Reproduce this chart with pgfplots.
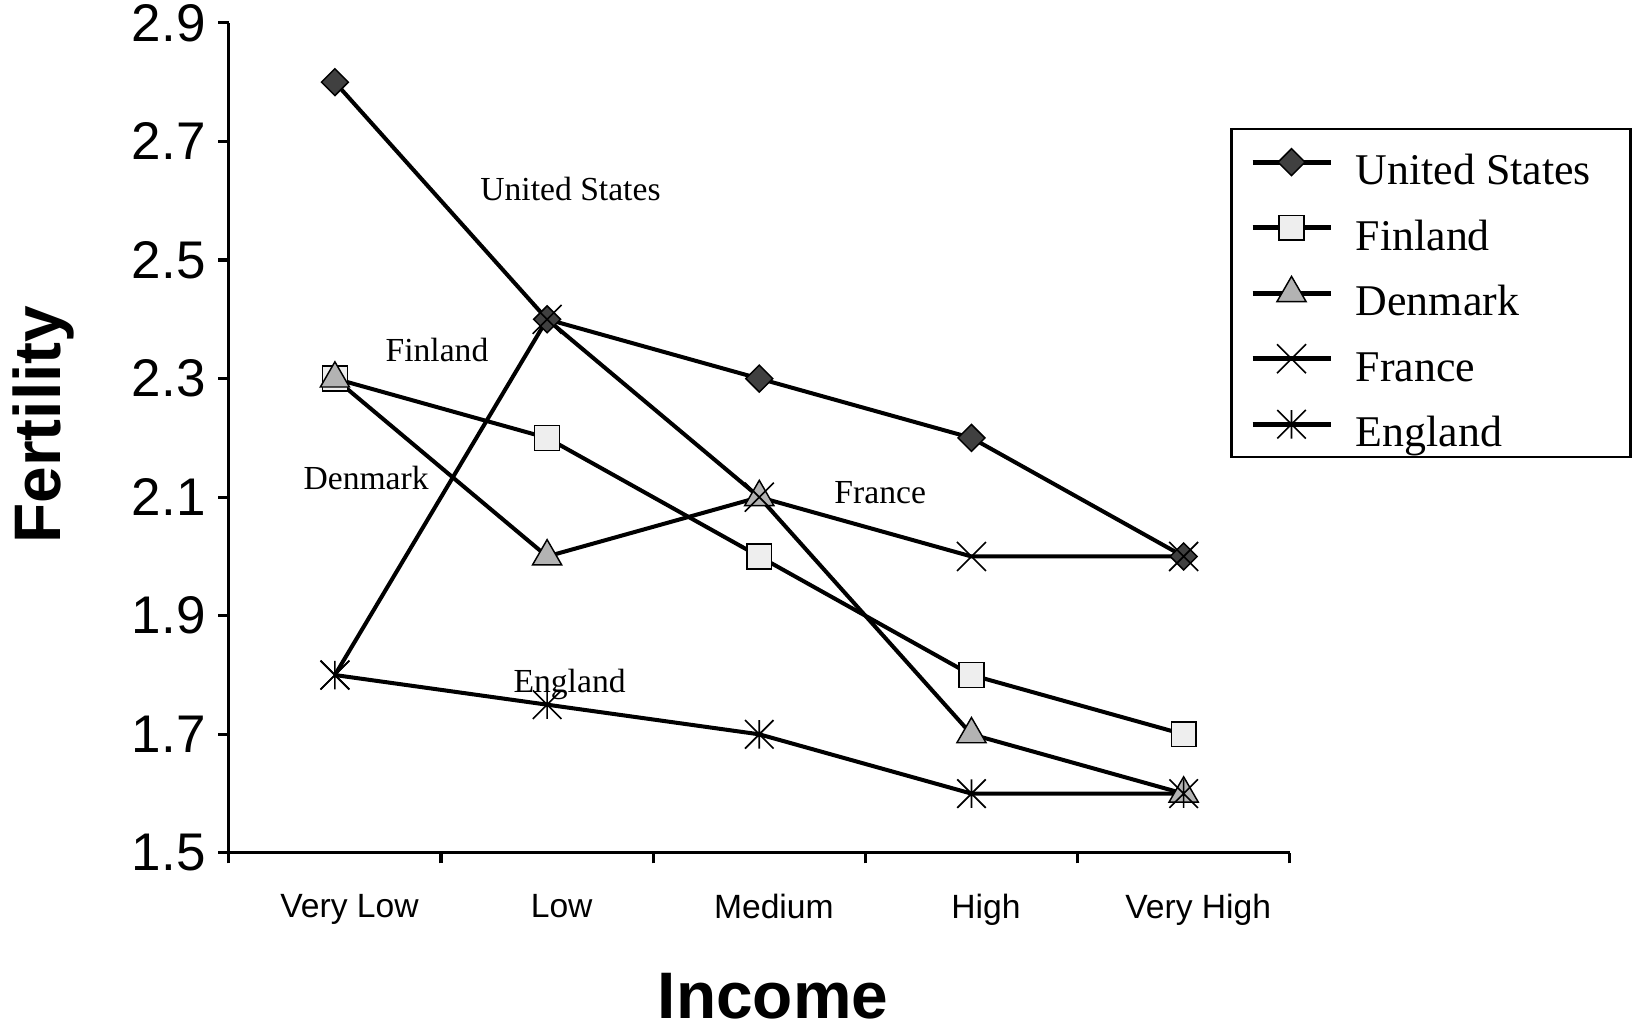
\documentclass[border=0pt]{standalone}
\usepackage{fontspec}
\setmainfont{Liberation Sans}
\newfontfamily\serif{Liberation Serif}
\usepackage{pgfplots}
\pgfplotsset{compat=1.18}

\definecolor{usfill}{HTML}{404040}
\definecolor{fifill}{HTML}{EEEEEE}
\definecolor{dkfill}{HTML}{B3B3B3}

% asterisk as in the original: an x plus a vertical bar
\pgfdeclareplotmark{xstar}{%
  \pgfpathmoveto{\pgfqpoint{-\pgfplotmarksize}{-\pgfplotmarksize}}%
  \pgfpathlineto{\pgfqpoint{\pgfplotmarksize}{\pgfplotmarksize}}%
  \pgfpathmoveto{\pgfqpoint{-\pgfplotmarksize}{\pgfplotmarksize}}%
  \pgfpathlineto{\pgfqpoint{\pgfplotmarksize}{-\pgfplotmarksize}}%
  \pgfpathmoveto{\pgfqpoint{0pt}{-\pgfplotmarksize}}%
  \pgfpathlineto{\pgfqpoint{0pt}{\pgfplotmarksize}}%
  \pgfusepathqstroke}

\begin{document}
\begin{tikzpicture}
\useasboundingbox (0,0) rectangle (15.70,9.875);
\begin{axis}[
    at={(2.20cm,1.675cm)}, anchor=south west,
    scale only axis,
    width=10.2cm, height=7.98cm,
    xmin=-0.5, xmax=4.5,
    ymin=1.5, ymax=2.9,
    axis x line*=bottom, axis y line*=left,
    axis line style={line width=0.85pt, -},
    tick align=outside,
    tick style={line width=0.85pt, black},
    major tick length=0.1cm,
    minor tick length=0.1cm,
    xtick={0,1,2,3,4},
    xticklabels={Very Low,Low,Medium,High,Very High},
    major x tick style={draw=none},
    minor xtick={-0.5,0.5,1.5,2.5,3.5,4.5},
    ytick={1.5,1.7,1.9,2.1,2.3,2.5,2.7,2.9},
    /pgf/number format/assume math mode=true,
    yticklabel style={font=\fontsize{14.5}{17}\selectfont,
        /pgf/number format/.cd, fixed, fixed zerofill, precision=1},
    xticklabel style={font=\fontsize{9.2}{11}\selectfont, xshift=0.14cm, yshift=-0.17cm},
    xlabel={Income}, ylabel={Fertility},
    label style={font=\bfseries\fontsize{18}{21}\selectfont},
    xlabel style={at={(axis description cs:0.513,-0.200)}, anchor=base},
    ylabel style={at={(axis description cs:-0.159,0.516)}, anchor=base},
    legend cell align=left,
    legend style={at={(0.944,0.873)}, anchor=north west,
        draw=black, line width=0.6pt,
        font=\serif\fontsize{12}{14}\selectfont,
        inner xsep=0.18cm, inner ysep=0.05cm,
        row sep=0.1cm, column sep=0.22cm,
        nodes={inner sep=0pt, text height=0.48cm, text depth=0.05cm}},
    legend image code/.code={%
        \draw[line width=1.3pt, mark repeat=2, mark phase=2]
            plot coordinates {(0cm,0cm) (0.375cm,0cm) (0.75cm,0cm)};},
    every axis plot/.append style={black, line width=1.1pt},
    clip=false,
]

% United States
\addplot[mark=square*, mark size=2.6pt,
    mark options={rotate=45, fill=usfill, draw=black, line width=0.4pt}]
    coordinates {(0,2.8) (1,2.4) (2,2.3) (3,2.2) (4,2.0)};
\addlegendentry{United States\rule{0.2cm}{0pt}}

% Finland
\addplot[mark=square*, mark size=3.4pt,
    mark options={fill=fifill, draw=black, line width=0.4pt}]
    coordinates {(0,2.3) (1,2.2) (2,2.0) (3,1.8) (4,1.7)};
\addlegendentry{Finland}

% Denmark
\addplot[mark=triangle*, mark size=4.6pt,
    mark options={fill=dkfill, draw=black, line width=0.4pt}]
    coordinates {(0,2.3) (1,2.0) (2,2.1) (3,1.7) (4,1.6)};
\addlegendentry{Denmark}

% France
\addplot[mark=x, mark size=5.6pt,
    mark options={draw=black, line width=0.45pt}]
    coordinates {(0,1.8) (1,2.4) (2,2.1) (3,2.0) (4,2.0)};
\addlegendentry{France}

% England
\addplot[mark=xstar, mark size=3.9pt,
    mark options={draw=black, line width=0.45pt}]
    coordinates {(0,1.8) (1,1.75) (2,1.7) (3,1.6) (4,1.6)};
\addlegendentry{England}

\begin{scope}[font=\serif\fontsize{9.2}{11}\selectfont]
\node at (axis cs:1.11,2.619) {United States};
\node at (axis cs:0.481,2.349) {Finland};
\node at (axis cs:0.147,2.133) {Denmark};
\node at (axis cs:2.570,2.107) {France};
\node at (axis cs:1.106,1.784) {England};
\end{scope}
\end{axis}
\end{tikzpicture}
\end{document}
